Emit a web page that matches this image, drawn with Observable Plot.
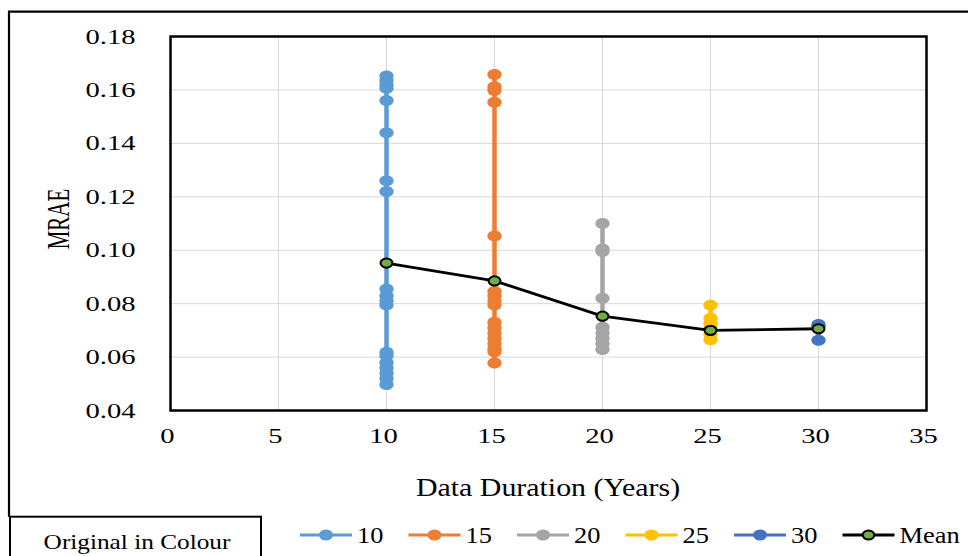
<!DOCTYPE html>
<html>
<head>
<meta charset="utf-8">
<script src="https://cdn.jsdelivr.net/npm/d3@7"></script>
<script src="https://cdn.jsdelivr.net/npm/@observablehq/plot@0.6"></script>
<style>
  html, body { margin: 0; padding: 0; background: #fff; }
  #wrap { position: relative; width: 968px; height: 556px; overflow: hidden; background: #fff; font-family: "Liberation Serif", "Times New Roman", serif; }
  #wrap > svg { position: absolute; left: 0; top: 0; }
</style>
</head>
<body>
<div id="wrap"></div>
<script>
// ---- data ----
const seriesNames = ["10", "15", "20", "25", "30"];
const durations = [10, 15, 20, 25, 30];
const s10 = [0.1652, 0.1635, 0.1618, 0.1606, 0.156, 0.144, 0.126, 0.122, 0.0855, 0.083, 0.081, 0.0795, 0.0618, 0.0605, 0.058, 0.056, 0.054, 0.052, 0.0497];
const s15 = [0.1658, 0.1612, 0.1598, 0.1554, 0.1053, 0.0845, 0.083, 0.081, 0.0795, 0.073, 0.071, 0.069, 0.067, 0.065, 0.063, 0.062, 0.0578];
const s20 = [0.110, 0.1005, 0.0995, 0.082, 0.0712, 0.069, 0.067, 0.065, 0.0628];
const s25 = [0.0794, 0.0745, 0.0725, 0.0705, 0.0685, 0.0665];
const s30 = [0.0722, 0.0715, 0.0663];
const meanValues = [0.0952, 0.0885, 0.0753, 0.0700, 0.0706];
const xTicks = [0, 5, 10, 15, 20, 25, 30, 35];
const yTicks = [0.04, 0.06, 0.08, 0.10, 0.12, 0.14, 0.16, 0.18];
const legendNames = ["10", "15", "20", "25", "30", "Mean"];

// ---- styles ----
const colors = ["#5B9BD5", "#ED7D31", "#A5A5A5", "#FFC000", "#4472C4"];
const meanFill = "#70AD47";

const allValues = [s10, s15, s20, s25, s30];
const table = seriesNames.map((name, i) =>
  allValues[i].map(v => ({series: name, x: durations[i], y: v})));
const meanData = durations.map((d, i) => ({x: d, y: meanValues[i]}));

// horizontally stretched ellipse marker (Excel picture is stretched)
const ellipse = {
  draw(ctx, size) {
    const r = Math.sqrt(size / Math.PI);
    const rx = r * 1.3, ry = r, k = 0.5523;
    ctx.moveTo(rx, 0);
    ctx.bezierCurveTo(rx, ry * k, rx * k, ry, 0, ry);
    ctx.bezierCurveTo(-rx * k, ry, -rx, ry * k, -rx, 0);
    ctx.bezierCurveTo(-rx, -ry * k, -rx * k, -ry, 0, -ry);
    ctx.bezierCurveTo(rx * k, -ry, rx, -ry * k, rx, 0);
    ctx.closePath();
  }
};

const seriesMarks = table.flatMap((rows, i) => [
  Plot.line(rows, {x: "x", y: "y", stroke: colors[i], strokeWidth: 4.5}),
  Plot.dot(rows, {x: "x", y: "y", fill: colors[i], r: 5.5, symbol: ellipse})
]);

const chart = Plot.plot({
  width: 968,
  height: 510,
  marginLeft: 170,
  marginRight: 42,
  marginTop: 36,
  marginBottom: 100,
  style: {fontFamily: "Liberation Serif, Times New Roman, serif", fontSize: "22px", color: "#000", background: "#fff", overflow: "visible"},
  x: {domain: [0, 35], axis: null},
  y: {domain: [0.04, 0.18], axis: null},
  marks: [
    Plot.gridX(xTicks.slice(1, -1), {stroke: "#d9d9d9", strokeOpacity: 1, strokeWidth: 1}),
    Plot.gridY(yTicks.slice(1, -1), {stroke: "#d9d9d9", strokeOpacity: 1, strokeWidth: 1}),
    ...seriesMarks,
    Plot.line(meanData, {x: "x", y: "y", stroke: "#000", strokeWidth: 2.8}),
    Plot.dot(meanData, {x: "x", y: "y", fill: meanFill, stroke: "#000", strokeWidth: 2, r: 4.6, symbol: ellipse}),
    Plot.frame({stroke: "#000", strokeWidth: 2.5}),
    Plot.axisY(yTicks, {tickSize: 0, tickPadding: 35, tickFormat: d3.format(".2f"), label: null}),
    Plot.axisX(xTicks, {tickSize: 0, tickPadding: 17, dx: -3, label: null})
  ]
});

const wrap = document.getElementById("wrap");
wrap.appendChild(chart);

// stretch tick labels horizontally like the reference
chart.querySelectorAll('[aria-label="y-axis tick label"] text, [aria-label="x-axis tick label"] text').forEach(t => {
  const tr = t.getAttribute("transform") || "";
  t.setAttribute("transform", tr + " scale(1.3,1)");
});

const cs = d3.select(chart);
cs.append("text")
  .attr("transform", "translate(548,487) scale(1.15,1)")
  .attr("text-anchor", "middle").attr("dy", "0.35em")
  .attr("fill", "#000")
  .style("font-size", "26px")
  .text("Data Duration (Years)");
cs.append("text")
  .attr("transform", "translate(58,219) scale(1.5,1) rotate(-90)")
  .attr("text-anchor", "middle").attr("dy", "0.35em")
  .attr("fill", "#000")
  .style("font-size", "21px")
  .text("MRAE");

// ---- decoration overlay: outer border, note box, legend ----
const deco = d3.select(wrap).append("svg")
  .attr("width", 968).attr("height", 556)
  .style("pointer-events", "none")
  .style("font-family", "Liberation Serif, Times New Roman, serif");

deco.append("path")
  .attr("d", "M9,517V11.7H968")
  .attr("fill", "none").attr("stroke", "#000").attr("stroke-width", 2.2);
deco.append("rect")
  .attr("x", 10).attr("y", 516.7).attr("width", 251).attr("height", 60)
  .attr("fill", "#fff").attr("stroke", "#000").attr("stroke-width", 2);
deco.append("text")
  .attr("transform", "translate(137,541) scale(1.15,1)")
  .attr("text-anchor", "middle").attr("dy", "0.35em")
  .style("font-size", "22px")
  .text("Original in Colour");

const legendColors = [...colors, "#000"];
legendNames.forEach((name, i) => {
  const x0 = 300 + 108.5 * i, cy = 535;
  const g = deco.append("g");
  g.append("line").attr("x1", x0).attr("x2", x0 + 52).attr("y1", cy).attr("y2", cy)
    .attr("stroke", legendColors[i]).attr("stroke-width", 3);
  if (name === "Mean") {
    g.append("ellipse").attr("cx", x0 + 26).attr("cy", cy).attr("rx", 5.8).attr("ry", 4.6)
      .attr("fill", meanFill).attr("stroke", "#000").attr("stroke-width", 2);
  } else {
    g.append("ellipse").attr("cx", x0 + 26).attr("cy", cy).attr("rx", 7).attr("ry", 5.6)
      .attr("fill", legendColors[i]);
  }
  g.append("text")
    .attr("transform", `translate(${x0 + 57},${cy}) scale(1.1,1)`)
    .attr("dy", "0.35em")
    .style("font-size", "24px")
    .text(name);
});
</script>
</body>
</html>
